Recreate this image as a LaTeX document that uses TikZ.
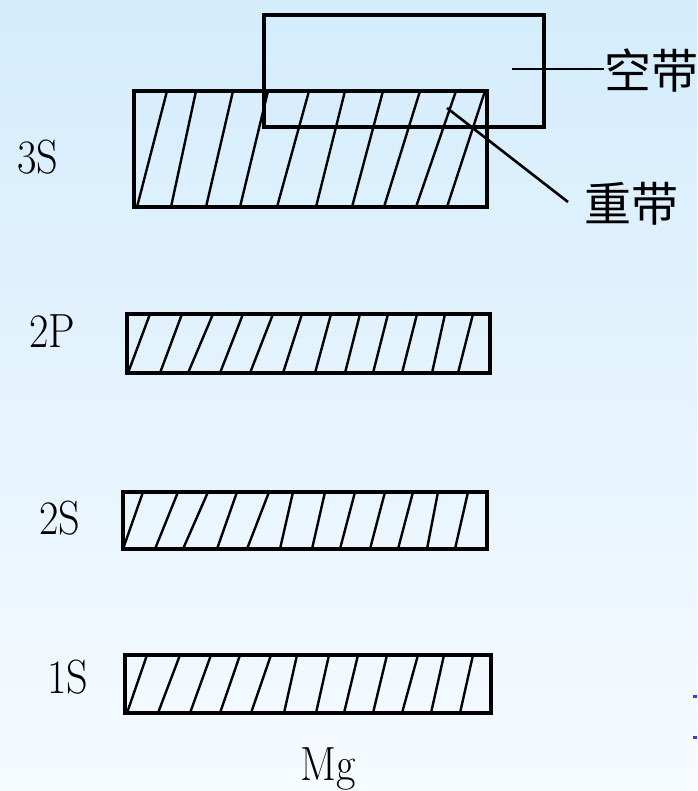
\documentclass[tikz,border=0pt]{standalone}
\usepackage{fontspec}
\newfontfamily\cjkfont{Noto Sans CJK SC}
\definecolor{bgtop}{RGB}{212,236,252}
\definecolor{bgbot}{RGB}{246,251,255}
\definecolor{markblue}{RGB}{60,60,200}
\begin{document}
\begin{tikzpicture}[x=1pt,y=-1pt,
  band/.style={draw=black,line width=3.2pt,inner sep=0pt,outer sep=0pt,fill=none},
  hatch/.style={line width=2.4pt,black},
  leader/.style={line width=2.6pt,black},
  lbl/.style={inner sep=0pt,font=\fontsize{48}{48}\selectfont,xscale=0.88},
  cjk/.style={inner sep=0pt,font=\cjkfont\fontsize{47}{47}\selectfont},
  blmark/.style={fill=markblue,draw=none}]
\begin{scope}[y=1pt]
\shade[top color=bgtop,bottom color=bgbot] (0,-791) rectangle (697,0);
\end{scope}
\useasboundingbox (0,0) rectangle (697,791);
% bands
\node[band,minimum width=353pt,minimum height=116pt] (b3s) at (310.5,149) {};
\node[band,minimum width=280pt,minimum height=112pt] (empty) at (404,71) {};
\node[band,minimum width=363pt,minimum height=59pt] (b2p) at (308.5,343.5) {};
\node[band,minimum width=364pt,minimum height=57pt] (b2s) at (305,520.5) {};
\node[band,minimum width=366pt,minimum height=58pt] (b1s) at (308,684) {};
% hatching
\foreach \t/\b in {167/137,196/171,233/206,268/240,309/277,345/316,383/352,420/384,456/416,485/447}
  \draw[hatch] (\t,91) -- (\b,207);
\foreach \t/\b in {150/128,182/160,213/188,243/220,273/250,302/283,331/315,360/345,388/373,417/402,445/432,473/458}
  \draw[hatch] (\t,314) -- (\b,373);
\foreach \t/\b in {143/123,178/155,208/183,237/217,269/247,293/280,325/312,355/340,385/370,413/398,438/427,468/455}
  \draw[hatch] (\t,492) -- (\b,549);
\foreach \t/\b in {147/127,180/158,211/190,240/220,271/251,297/284,329/316,358/344,387/373,418/402,444/431,473/460}
  \draw[hatch] (\t,655) -- (\b,713);
% labels
\node[lbl] (l3s) at (38,157) {3S};
\node[lbl] (l2p) at (52,331) {2P};
\node[lbl] (l2s) at (60,518) {2S};
\node[lbl] (l1s) at (68,677) {1S};
\node[lbl,anchor=base] (mg) at (328,780) {Mg};
% band names
\node[cjk,anchor=west] (kd) at (604,71) {空带};
\node[cjk,anchor=west] (cd) at (584,204) {重带};
\coordinate (kds) at (512,69);
\coordinate (cds) at (447,108);
\coordinate (cde) at (568,202);
\draw[leader] (kds) -- (kds -| kd.west);
\draw[leader] (cds) -- (cde);
% small blue marks at right edge
\path[blmark] (693,695) rectangle (697,698);
\path[blmark] (693,736) rectangle (697,739);
\end{tikzpicture}
\end{document}
